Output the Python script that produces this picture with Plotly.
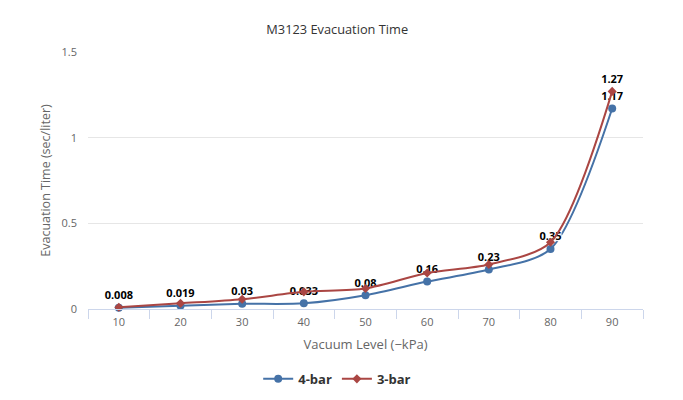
import plotly.graph_objects as go

categories = ["10", "20", "30", "40", "50", "60", "70", "80", "90"]
bar4_values = [0.008, 0.019, 0.03, 0.033, 0.08, 0.16, 0.23, 0.35, 1.17]
bar3_values = [0.01, 0.033, 0.057, 0.1, 0.12, 0.21, 0.26, 0.39, 1.27]
bar4_labels = ["0.008", "0.019", "0.03", "0.033", "0.08", "0.16", "0.23", "0.35", "1.17"]
bar3_labels = ["", "", "", "", "", "", "", "", "1.27"]
y_ticks = [0, 0.5, 1, 1.5]
y_tick_labels = ["0", "0.5", "1", "1.5"]

FONT = "Open Sans, DejaVu Sans, sans-serif"
label_font = dict(family=FONT, size=11, color="#000000", weight="bold",
                  shadow="1px 1px 1px #fff, -1px -1px 1px #fff, 1px -1px 1px #fff, -1px 1px 1px #fff")

fig = go.Figure()
fig.add_trace(go.Scatter(
    x=categories, y=bar4_values, name="4-bar", mode="lines+markers+text",
    line=dict(color="#4572A7", width=2, shape="spline", smoothing=0.8),
    marker=dict(symbol="circle", size=8, color="#4572A7"),
    text=bar4_labels, textposition="top center", textfont=label_font,
    cliponaxis=False,
))
fig.add_trace(go.Scatter(
    x=categories, y=bar3_values, name="3-bar", mode="lines+markers+text",
    line=dict(color="#AA4643", width=2, shape="spline", smoothing=0.8),
    marker=dict(symbol="diamond", size=7, color="#AA4643"),
    text=bar3_labels, textposition="top center", textfont=label_font,
    cliponaxis=False,
))

fig.update_layout(
    width=683, height=400,
    margin=dict(l=80, r=48, t=44, b=99),
    paper_bgcolor="#ffffff", plot_bgcolor="#ffffff",
    font=dict(family=FONT, size=11, color="#666666"),
    title=dict(text="M3123 Evacuation Time", x=0.482, xanchor="center", y=0.945, yanchor="middle",
               font=dict(family=FONT, size=12.8, color="#333333")),
    showlegend=True,
    legend=dict(orientation="h", x=0.449, xanchor="center", y=-0.272, yanchor="middle",
                font=dict(family=FONT, size=13, color="#333333", weight="bold"),
                itemwidth=30),
    xaxis=dict(
        type="category", range=[-0.5, 8.5],
        showgrid=False, showline=True, linecolor="#ccd6eb", linewidth=1,
        ticks="outside", tickson="boundaries", ticklen=9, tickcolor="#ccd6eb",
        ticklabelstandoff=3,
        tickfont=dict(family=FONT, size=11, color="#666666"),
        title=dict(text="Vacuum Level (−kPa)", font=dict(family=FONT, size=13, color="#666666"), standoff=11),
        zeroline=False,
    ),
    yaxis=dict(
        range=[0, 1.5], tickvals=y_ticks, ticktext=y_tick_labels,
        showgrid=True, gridcolor="#e6e6e6", gridwidth=1,
        showline=False, zeroline=False, ticks="", ticklabelstandoff=10,
        tickfont=dict(family=FONT, size=11, color="#666666"),
        title=dict(text="Evacuation Time (sec/liter)", font=dict(family=FONT, size=12.5, color="#666666"), standoff=8),
    ),
)

fig.write_html("out.html")
